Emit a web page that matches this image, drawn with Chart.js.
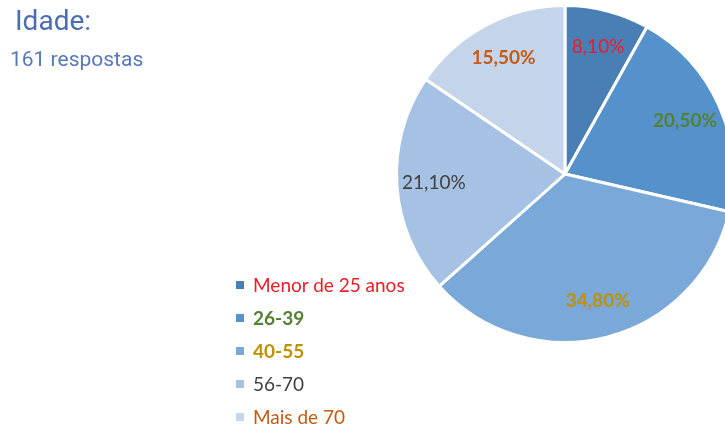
<!DOCTYPE html>
<html>
<head>
<meta charset="utf-8">
<script src="https://cdn.jsdelivr.net/npm/chart.js@4"></script>
<style>
  html, body { margin: 0; padding: 0; background: #fff; overflow: hidden; }
  body { width: 725px; height: 428px; position: relative; }
  #wrap { position: absolute; left: 0; top: 0; width: 740px; height: 428px; }
  #title { position: absolute; left: 15px; top: 4px; font: 28px Roboto, sans-serif; color: #4a6db3; }
  #sub { position: absolute; left: 10px; top: 47px; font: 21px Roboto, sans-serif; color: #5878bb; }
  #legend { position: absolute; left: 236px; top: 271px; font: 19px Lato, sans-serif; }
  #legend div { height: 33px; line-height: 28px; white-space: nowrap; }
  #legend span.box { display: inline-block; width: 8px; height: 8px; margin-right: 9px; vertical-align: 3px; }
</style>
</head>
<body>
<div id="wrap"><canvas id="pieChart" width="740" height="428"></canvas></div>
<div id="title">Idade:</div>
<div id="sub">161 respostas</div>
<div id="legend"></div>
<script>
// ===== Data =====
const categories = ['Menor de 25 anos', '26-39', '40-55', '56-70', 'Mais de 70'];
const percents = [8.1, 20.5, 34.8, 21.1, 15.5];
const sliceColors = ['#4a7fb6', '#5592cb', '#7aa8d9', '#a5c1e3', '#c4d5eb'];
const textColors = ['#ee1c25', '#548235', '#bf9000', '#404040', '#c55a11'];
const legendBold = [false, true, true, false, false];
const labelBold = [false, true, true, false, true];

// ===== Legend (html) =====
const legendEl = document.getElementById('legend');
categories.forEach((c, i) => {
    const row = document.createElement('div');
    row.innerHTML = '<span class="box" style="background:' + sliceColors[i] + '"></span>' +
        '<span style="color:' + textColors[i] + ';font-weight:' + (legendBold[i] ? 'bold' : 'normal') + '">' + c + '</span>';
    legendEl.appendChild(row);
});

// ===== Percentage labels =====
const pctLabels = {
    id: 'pctLabels',
    afterDatasetsDraw(chart) {
        const ctx = chart.ctx;
        const meta = chart.getDatasetMeta(0);
        ctx.save();
        ctx.textAlign = 'center';
        ctx.textBaseline = 'middle';
        meta.data.forEach((arc, i) => {
            const mid = (arc.startAngle + arc.endAngle) / 2;
            const r = arc.outerRadius * 0.78;
            const x = arc.x + Math.cos(mid) * r;
            const y = arc.y + Math.sin(mid) * r;
            ctx.font = (labelBold[i] ? 'bold ' : '') + '19px Lato, sans-serif';
            ctx.fillStyle = textColors[i];
            ctx.fillText(percents[i].toFixed(2).replace('.', ',') + '%', x, y);
        });
        ctx.restore();
    }
};

// ===== Pie Chart =====
const pieCtx = document.getElementById('pieChart').getContext('2d');
new Chart(pieCtx, {
    type: 'pie',
    data: {
        labels: categories,
        datasets: [{
            data: percents,
            backgroundColor: sliceColors,
            borderColor: '#ffffff',
            borderWidth: 3
        }]
    },
    options: {
        responsive: false,
        animation: false,
        layout: { padding: { left: 395, right: 5, top: 4, bottom: 84 } },
        plugins: {
            legend: { display: false },
            tooltip: { enabled: false }
        }
    },
    plugins: [pctLabels]
});
</script>
</body>
</html>
